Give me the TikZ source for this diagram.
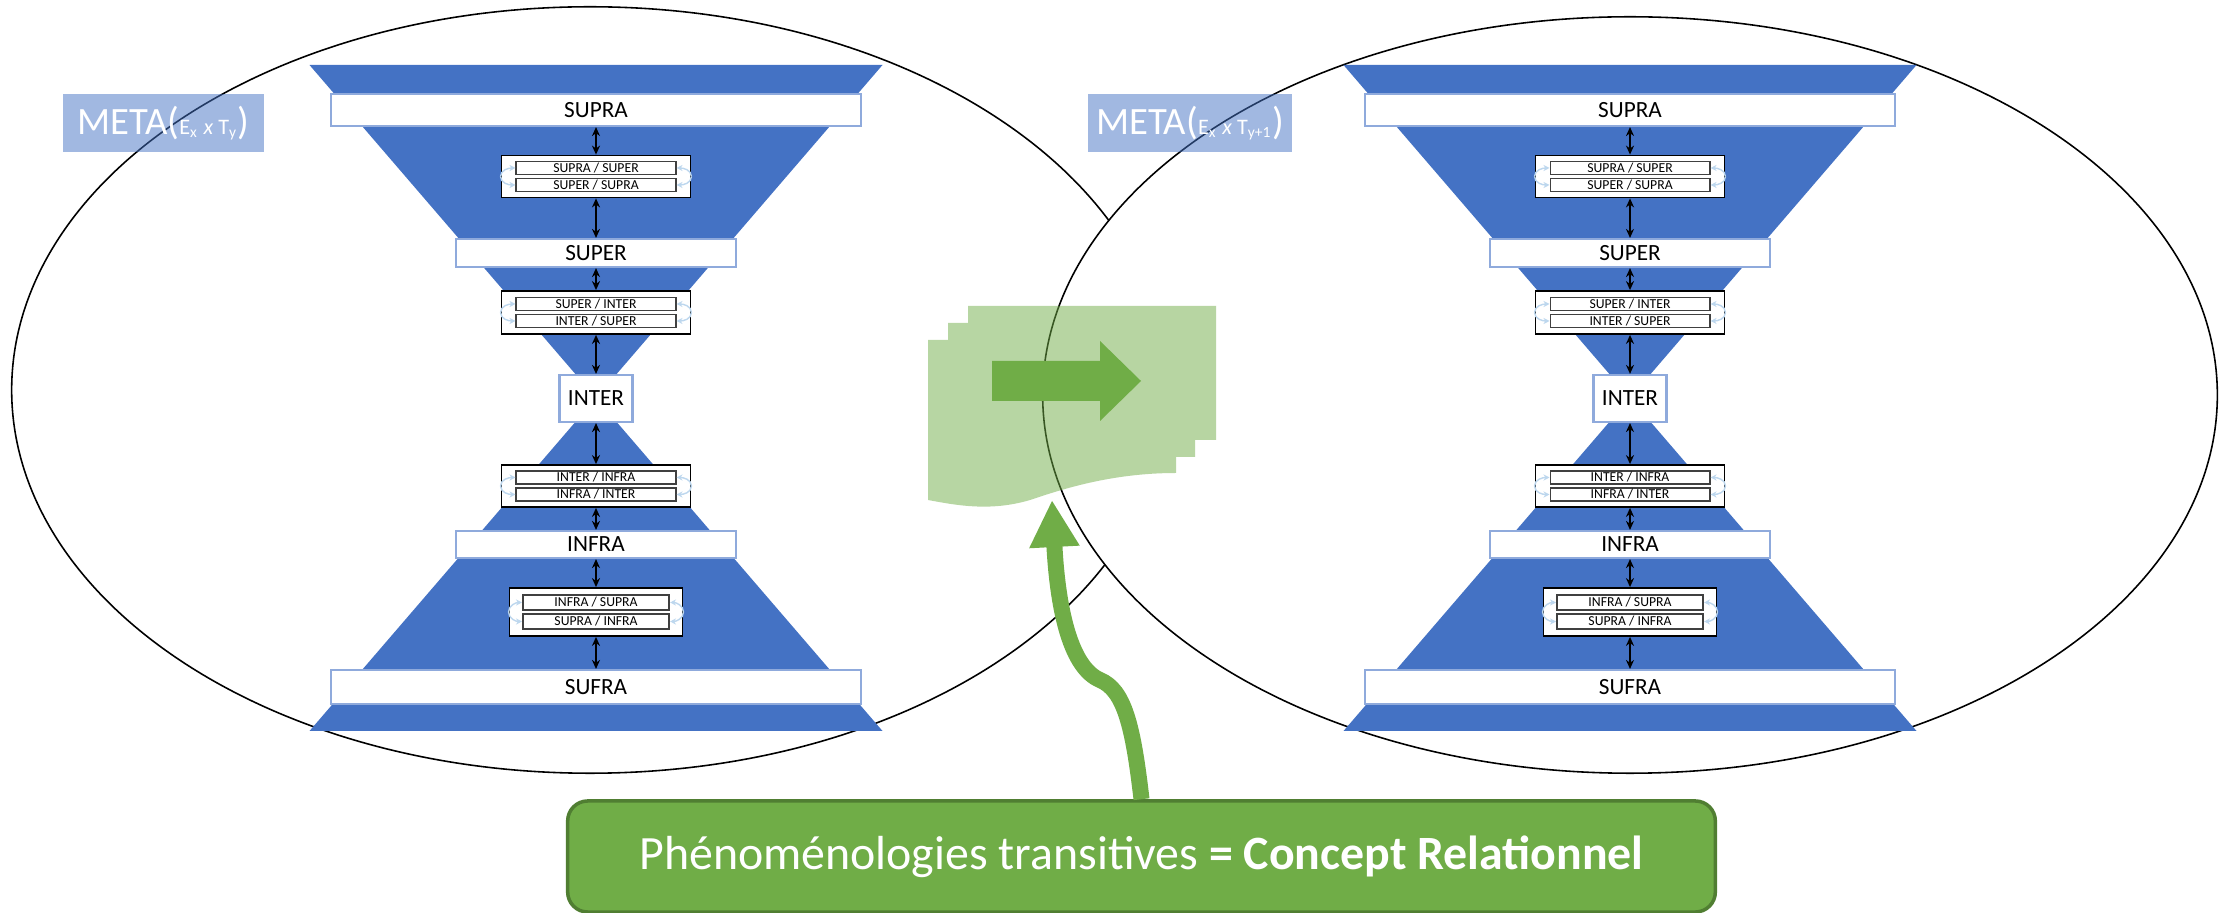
\documentclass[tikz,border=0pt]{standalone}
\usepackage{fontspec}
\setmainfont{Carlito}
\usetikzlibrary{arrows.meta}

\definecolor{funnel}{HTML}{4472C4}
\definecolor{lvlline}{HTML}{8FAADC}
\definecolor{loopblue}{HTML}{BDD7EE}
\definecolor{leaf}{HTML}{70AD47}
\definecolor{leafdark}{HTML}{507E32}

\begin{document}
\begin{tikzpicture}[x=0.01cm, y=-0.01cm,
    level/.style={draw=lvlline, line width=0.6pt, fill=white, inner sep=0pt,
                  font=\fontsize{6.6}{7}\selectfont},
    pairbox/.style={draw=black, line width=0.5pt, fill=white, inner sep=0pt},
    pair/.style={draw=black!75, line width=0.55pt, fill=white, inner sep=0pt,
                 font=\fontsize{3.9}{4}\selectfont},
    link/.style={{Stealth[length=0.9mm,width=0.8mm]}-{Stealth[length=0.9mm,width=0.8mm]}, line width=0.5pt},
    swap/.style={-{Stealth[length=0.6mm,width=0.6mm]}, draw=loopblue, line width=0.4pt},
    meta/.style={fill=funnel, fill opacity=0.5, text opacity=1, text=white, inner sep=0pt,
                 minimum height=0.58cm, font=\fontsize{11}{12}\selectfont},
    concept/.style={fill=leaf, draw=leafdark, line width=1pt, rounded corners=0.2cm,
                    minimum width=11.47cm, minimum height=1.11cm, text=white,
                    font=\fontsize{13.6}{15}\selectfont}]
  \useasboundingbox (0,0) rectangle (2227,913);

  \draw[line width=0.45pt] (590,390) ellipse [x radius=5.78cm, y radius=3.83cm];
  \filldraw[fill=white, line width=0.45pt] (1630,395) ellipse [x radius=5.87cm, y radius=3.78cm];

  \foreach \cx/\p in {596/L, 1630/R} {
    \fill[funnel] (\cx-286.5,65) -- (\cx+286.5,65) -- (\cx,398) -- cycle;
    \fill[funnel] (\cx-286.5,731) -- (\cx+286.5,731) -- (\cx,398) -- cycle;

    \node[level, minimum width=5.29cm, minimum height=0.32cm] (\p-supra) at (\cx,110) {SUPRA};
    \node[level, minimum width=2.79cm, minimum height=0.28cm] (\p-super) at (\cx,253) {SUPER};
    \node[level, minimum width=0.73cm, minimum height=0.47cm] (\p-inter) at (\cx,398.5) {INTER};
    \node[level, minimum width=2.79cm, minimum height=0.27cm] (\p-infra) at (\cx,544.5) {INFRA};
    \node[level, minimum width=5.29cm, minimum height=0.34cm] (\p-sufra) at (\cx,687) {SUFRA};

    \foreach \g/\y/\a/\b/\gw/\gh/\pw/\ph/\d in
        {1/176.5/SUPRA/SUPER/1.89/0.42/1.59/0.13/8.5,
         2/312.5/SUPER/INTER/1.89/0.43/1.59/0.13/8.5,
         3/486/INTER/INFRA/1.89/0.42/1.59/0.13/8.5,
         4/612/INFRA/SUPRA/1.73/0.48/1.46/0.15/9.5} {
      \node[pairbox, minimum width=\gw cm, minimum height=\gh cm] (\p-g\g) at (\cx,\y) {};
      \node[pair, minimum width=\pw cm, minimum height=\ph cm] (\p-g\g-up) at (\cx,\y-\d) {\a{} / \b};
      \node[pair, minimum width=\pw cm, minimum height=\ph cm] (\p-g\g-dn) at (\cx,\y+\d) {\b{} / \a};
      \draw[swap] (\p-g\g.west) to[out=90,in=180] (\p-g\g-up.west);
      \draw[swap] (\p-g\g.west) to[out=-90,in=180] (\p-g\g-dn.west);
      \draw[swap] (\p-g\g.east) to[out=90,in=0] (\p-g\g-up.east);
      \draw[swap] (\p-g\g.east) to[out=-90,in=0] (\p-g\g-dn.east);
    }

    \foreach \s/\t in {supra/g1, g1/super, super/g2, g2/inter, inter/g3, g3/infra, infra/g4, g4/sufra}
      \draw[link] (\p-\s) -- (\p-\t);
  }

  \node[meta, minimum width=2.01cm] (metaL) at (163.5,123)
    {META({\fontsize{6.3}{7}\selectfont E\textsubscript{x} \textit{x} T\textsubscript{y}})};
  \node[meta, minimum width=2.04cm] (metaR) at (1190,123)
    {META({\fontsize{6.3}{7}\selectfont E\textsubscript{x} \textit{x} T\textsubscript{y+1}})};

  \begin{scope}[transparency group, opacity=0.5]
    \fill[leaf] (968,306) rectangle (1216,440);
    \fill[leaf] (948,323) rectangle (1195,457);
    \fill[leaf] (928,340) -- (1176,340) -- (1176,473)
      .. controls (1110,473) and (1060,490) .. (1030,500)
      .. controls (990,512) and (955,505) .. (928,500) -- cycle;
  \end{scope}
  \fill[leaf] (992,361) -- (1100,361) -- (1100,341) -- (1141,381)
    -- (1100,421) -- (1100,401) -- (992,401) -- cycle;
  \coordinate (doctip) at (1052,500);

  \node[concept] (concept) at (1141.5,856.5)
    {Phénoménologies transitives \textbf{= Concept Relationnel}};
  \draw[leaf, line width=0.16cm, -{Triangle[length=0.47cm,width=0.47cm]}]
    (concept.north) .. controls (1133,725) and (1124,690) .. (1100,680)
    .. controls (1072,668) and (1058,615) .. (doctip);
\end{tikzpicture}
\end{document}
